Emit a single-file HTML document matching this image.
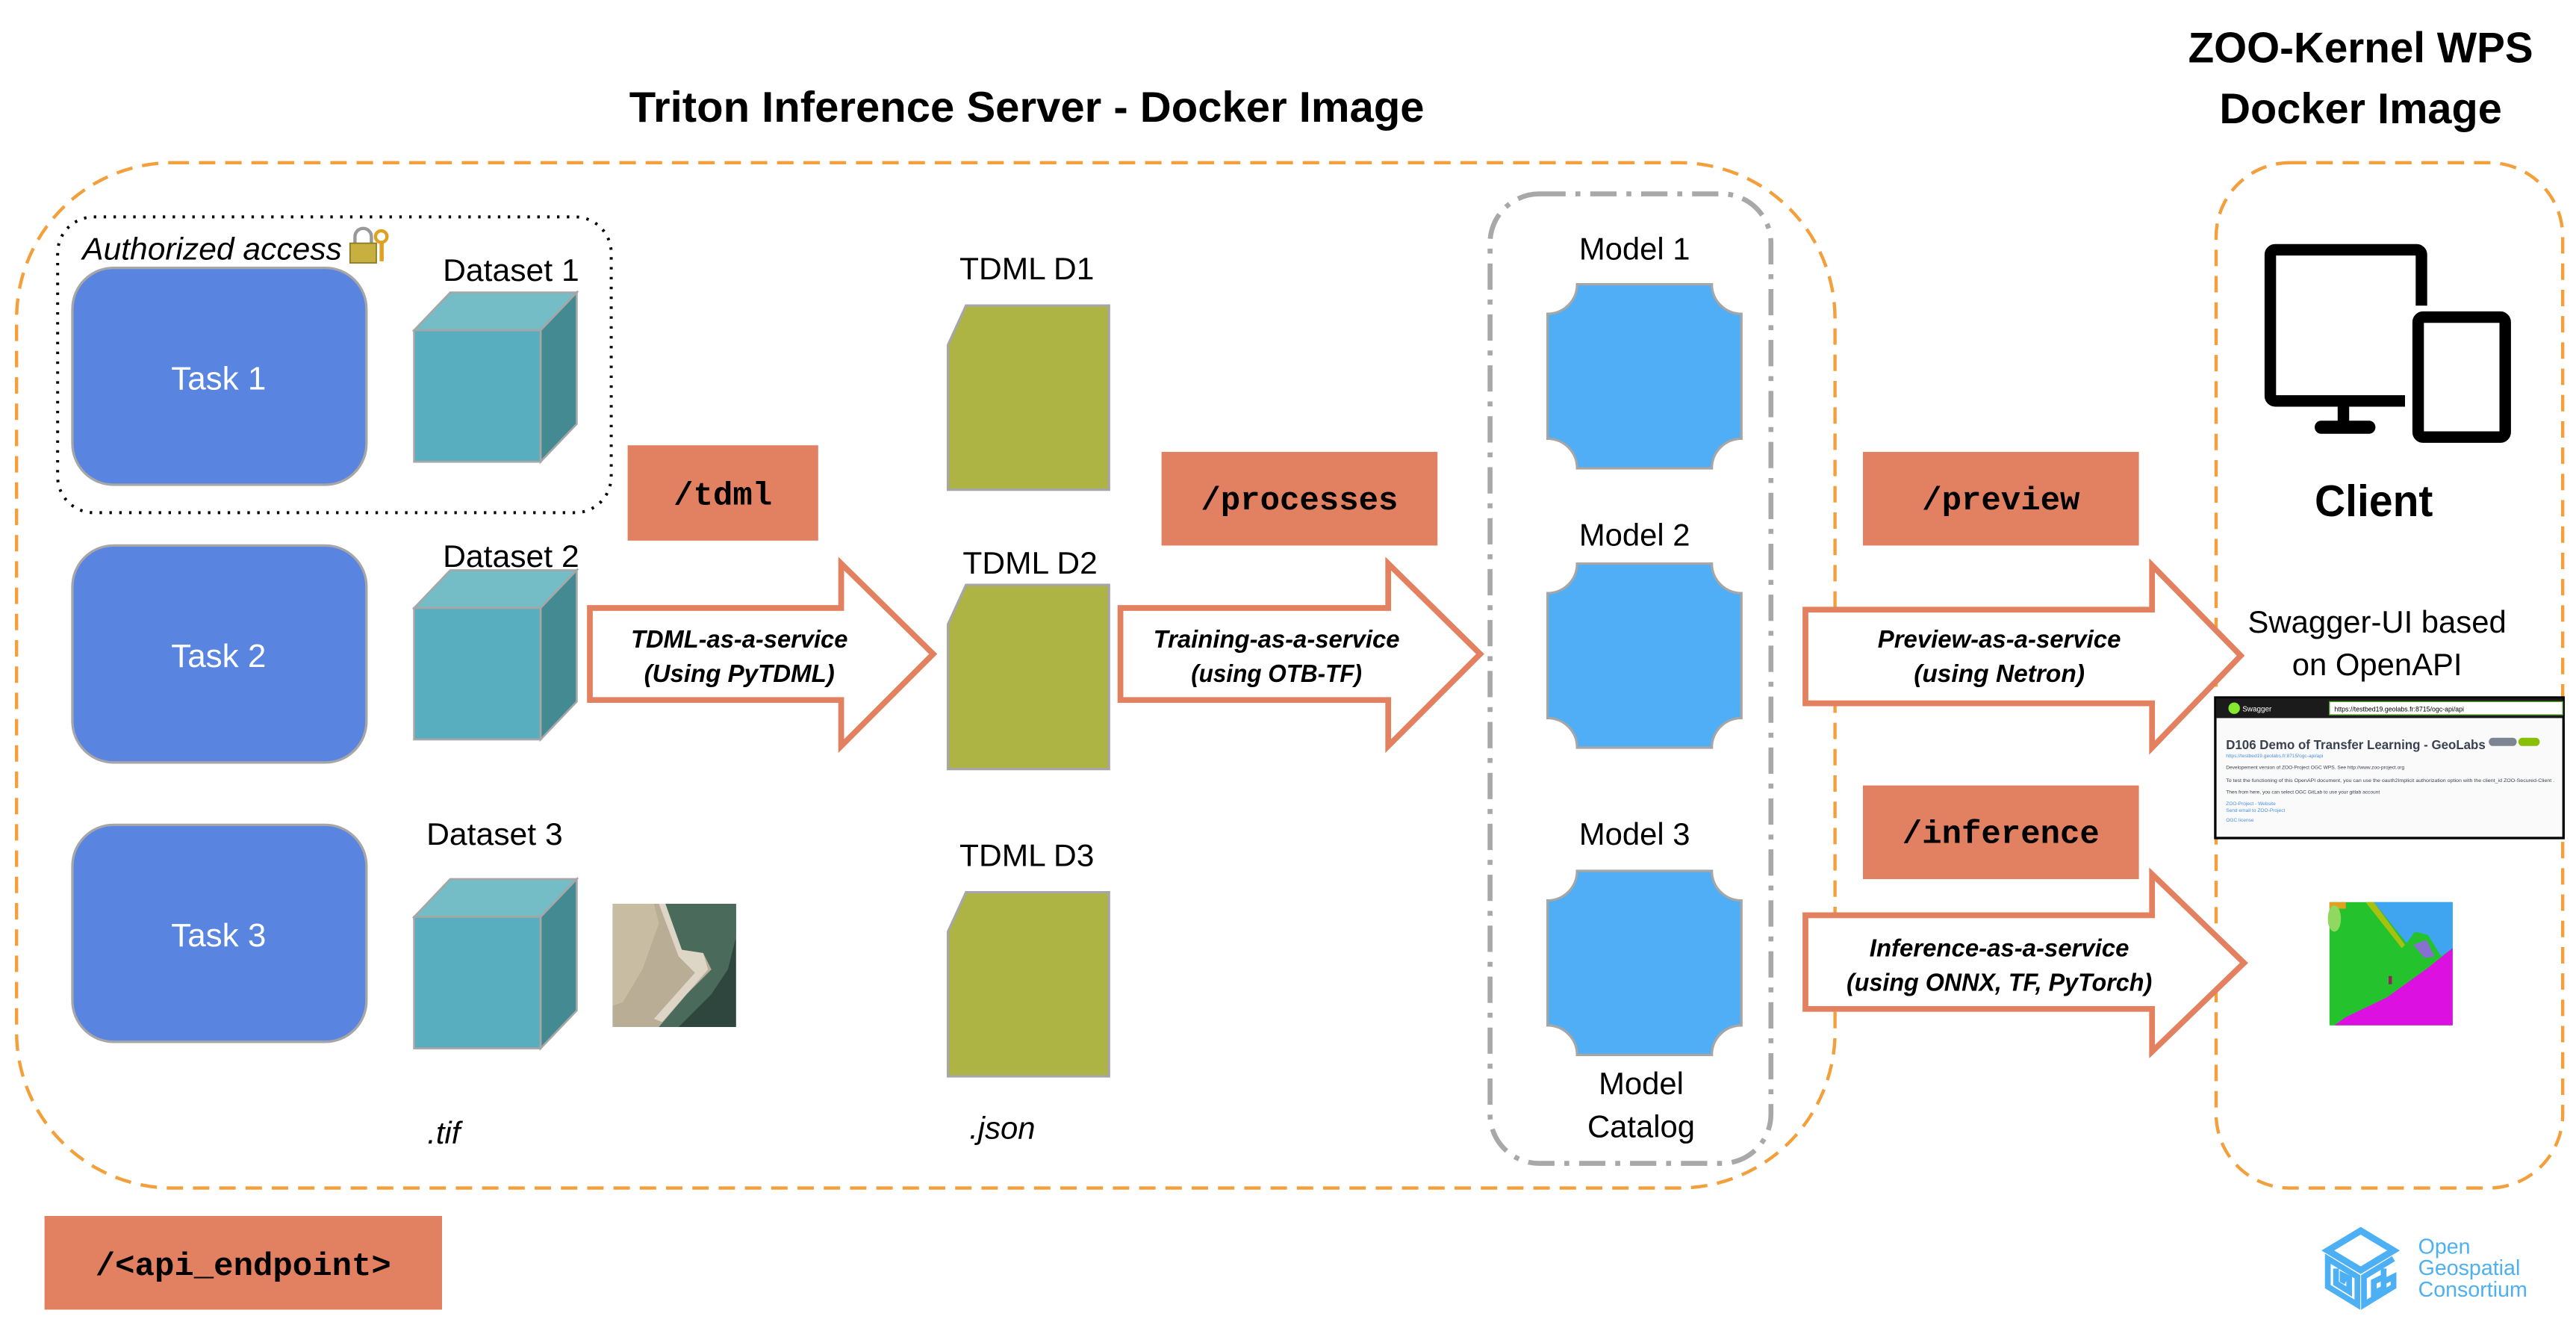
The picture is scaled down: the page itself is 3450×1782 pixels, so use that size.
<!DOCTYPE html>
<html><head><meta charset="utf-8"><style>
html,body{margin:0;padding:0;background:#fff;}
svg{display:block}
text{font-family:"Liberation Sans",sans-serif;}
text.mono{font-family:"Liberation Mono",monospace;font-weight:bold;}
</style></head><body>
<svg width="3450" height="1782" viewBox="0 0 1568 810" xmlns="http://www.w3.org/2000/svg">
<rect width="1568" height="810" fill="#fff"/>
<!-- titles -->
<text x="625" y="74" font-size="26" font-weight="bold" text-anchor="middle" textLength="484" lengthAdjust="spacingAndGlyphs">Triton Inference Server - Docker Image</text>
<text x="1437" y="38" font-size="26" font-weight="bold" text-anchor="middle" textLength="210" lengthAdjust="spacingAndGlyphs">ZOO-Kernel WPS</text>
<text x="1437" y="75" font-size="26" font-weight="bold" text-anchor="middle" textLength="172" lengthAdjust="spacingAndGlyphs">Docker Image</text>

<!-- containers -->
<rect x="10" y="99" width="1107" height="624" rx="95" fill="none" stroke="#F3A03C" stroke-width="2" stroke-dasharray="10,6"/>
<rect x="1349" y="99" width="211" height="624" rx="45" fill="none" stroke="#F3A03C" stroke-width="2" stroke-dasharray="10,6"/>
<rect x="35" y="132" width="337" height="180" rx="22" fill="none" stroke="#000" stroke-width="1.8" stroke-dasharray="1.5,4.5"/>
<rect x="907" y="118" width="171" height="590" rx="30" fill="none" stroke="#A8A8A8" stroke-width="3" stroke-dasharray="16,6,3,6"/>

<text x="50" y="158" font-size="19" font-style="italic" textLength="158" lengthAdjust="spacingAndGlyphs">Authorized access</text>
<!-- lock -->
<g transform="translate(213,139)">
<path d="M3 9 V5 a5 5 0 0 1 10 0 V9" fill="none" stroke="#999" stroke-width="2"/>
<rect x="0" y="9" width="16" height="12" fill="#C8B040" stroke="#8a7a20" stroke-width="0.8"/>
<circle cx="19" cy="5" r="3.5" fill="none" stroke="#E0A020" stroke-width="2"/>
<rect x="18" y="8" width="2.5" height="12" fill="#E0A020"/>
</g>

<!-- tasks -->
<g fill="#5985E1" stroke="#A6A6A6" stroke-width="1.5">
<rect x="44" y="163" width="179" height="132" rx="25"/>
<rect x="44" y="332" width="179" height="132" rx="25"/>
<rect x="44" y="502" width="179" height="132" rx="25"/>
</g>
<g fill="#fff" font-size="20" text-anchor="middle">
<text x="133" y="237">Task 1</text>
<text x="133" y="406">Task 2</text>
<text x="133" y="576">Task 3</text>
</g>

<!-- cubes -->
<defs>
<g id="cube">
<polygon points="0,23 22,0 99,0 77,23" fill="#74BCC6" stroke="#A6A6A6" stroke-width="1.2"/>
<polygon points="77,23 99,0 99,80 77,103" fill="#448A93" stroke="#A6A6A6" stroke-width="1.2"/>
<rect x="0" y="23" width="77" height="80" fill="#58AEBF" stroke="#A6A6A6" stroke-width="1.2"/>
</g>
<g id="doc">
<polygon points="0,24 11,0 98,0 98,112 0,112" fill="#ADB443" stroke="#A6A6A6" stroke-width="1.5"/>
</g>
<g id="model">
<path d="M18,0 H100 A18,18 0 0 0 118,18 V94 A18,18 0 0 0 100,112 H18 A18,18 0 0 0 0,94 V18 A18,18 0 0 0 18,0 Z" fill="#4FAEF5" stroke="#A6A6A6" stroke-width="1.5"/>
</g>
</defs>
<use href="#cube" x="252" y="178"/>
<use href="#cube" x="252" y="347"/>
<use href="#cube" x="252" y="535"/>
<g font-size="19" text-anchor="middle">
<text x="311" y="171" textLength="83" lengthAdjust="spacingAndGlyphs">Dataset 1</text>
<text x="311" y="345" textLength="83" lengthAdjust="spacingAndGlyphs">Dataset 2</text>
<text x="301" y="514" textLength="83" lengthAdjust="spacingAndGlyphs">Dataset 3</text>
<text x="625" y="170" textLength="82" lengthAdjust="spacingAndGlyphs">TDML D1</text>
<text x="627" y="349" textLength="82" lengthAdjust="spacingAndGlyphs">TDML D2</text>
<text x="625" y="527" textLength="82" lengthAdjust="spacingAndGlyphs">TDML D3</text>
<text x="995" y="158">Model 1</text>
<text x="995" y="332">Model 2</text>
<text x="995" y="514">Model 3</text>
<text x="999" y="666">Model</text>
<text x="999" y="692">Catalog</text>
<text x="1447" y="385">Swagger-UI based</text>
<text x="1447" y="411">on OpenAPI</text>
</g>
<g font-size="19" font-style="italic">
<text x="260" y="696">.tif</text>
<text x="590" y="693">.json</text>
</g>

<!-- satellite -->
<g transform="translate(373,550)">
<rect width="75" height="75" fill="#2f463e"/>
<polygon points="0,0 30,0 50,0 75,0 75,20 70,40 60,55 40,75 0,75" fill="#4a6a5c"/>
<polygon points="0,0 30,0 35,10 42,28 55,30 60,40 45,55 28,75 0,75" fill="#b9ad95"/>
<polygon points="0,0 25,0 28,12 18,40 6,60 0,62" fill="#c8bca3"/>
<polygon points="28,0 32,0 42,28 55,30 58,40 30,72 25,70 50,42 40,32" fill="#ddd5c5"/>
</g>

<!-- docs -->
<use href="#doc" x="577" y="186"/>
<use href="#doc" x="577" y="356"/>
<use href="#doc" x="577" y="543"/>

<!-- models -->
<use href="#model" x="942" y="173"/>
<use href="#model" x="942" y="343"/>
<use href="#model" x="942" y="530"/>

<!-- endpoint boxes -->
<g fill="#E28062">
<rect x="382" y="271" width="116" height="58"/>
<rect x="707" y="275" width="168" height="57"/>
<rect x="1134" y="275" width="168" height="57"/>
<rect x="1134" y="478" width="168" height="57"/>
<rect x="27" y="740" width="242" height="57"/>
</g>
<g font-size="20" text-anchor="middle">
<text class="mono" x="440" y="307">/tdml</text>
<text class="mono" x="791" y="310">/processes</text>
<text class="mono" x="1218" y="310">/preview</text>
<text class="mono" x="1218" y="513">/inference</text>
<text class="mono" x="148" y="776">/&lt;api_endpoint&gt;</text>
</g>

<!-- arrows -->
<g fill="#fff" stroke="#E2805F" stroke-width="3.5" stroke-linejoin="miter">
<polygon points="359,370 512,370 512,343 568,398 512,454 512,426 359,426"/>
<polygon points="682,370 845,370 845,343 901,398 845,454 845,426 682,426"/>
<polygon points="1099,371 1310,371 1310,344 1364,399 1310,455 1310,428 1099,428"/>
<polygon points="1099,557 1310,557 1310,532 1366,586 1310,640 1310,614 1099,614"/>
</g>
<g font-size="15" font-weight="bold" font-style="italic" text-anchor="middle">
<text x="450" y="394" textLength="132" lengthAdjust="spacingAndGlyphs">TDML-as-a-service</text>
<text x="450" y="415" textLength="116" lengthAdjust="spacingAndGlyphs">(Using PyTDML)</text>
<text x="777" y="394" textLength="150" lengthAdjust="spacingAndGlyphs">Training-as-a-service</text>
<text x="777" y="415" textLength="104" lengthAdjust="spacingAndGlyphs">(using OTB-TF)</text>
<text x="1217" y="394" textLength="148" lengthAdjust="spacingAndGlyphs">Preview-as-a-service</text>
<text x="1217" y="415" textLength="104" lengthAdjust="spacingAndGlyphs">(using Netron)</text>
<text x="1217" y="582" textLength="158" lengthAdjust="spacingAndGlyphs">Inference-as-a-service</text>
<text x="1217" y="603" textLength="186" lengthAdjust="spacingAndGlyphs">(using ONNX, TF, PyTorch)</text>
</g>

<!-- client icon -->
<rect x="1382" y="152" width="92" height="92" rx="3" fill="none" stroke="#000" stroke-width="7"/>
<rect x="1423" y="246" width="7" height="12" fill="#000"/>
<rect x="1409" y="256" width="37" height="8" rx="4" fill="#000"/>
<rect x="1464" y="186" width="70" height="90" fill="#fff"/>
<rect x="1472" y="193" width="53" height="73" rx="3" fill="#fff" stroke="#000" stroke-width="7"/>
<text x="1445" y="314" font-size="27" font-weight="bold" text-anchor="middle" textLength="72" lengthAdjust="spacingAndGlyphs">Client</text>

<!-- swagger screenshot -->
<g>
<rect x="1348.5" y="424.5" width="212" height="85.5" fill="#fafafa" stroke="#000" stroke-width="1.5"/>
<rect x="1349" y="425" width="211" height="12" fill="#1b1b1b"/>
<circle cx="1360" cy="431" r="3.5" fill="#85EA2D"/>
<text x="1365" y="433" font-size="4.5" fill="#fff">Swagger</text>
<rect x="1418" y="427" width="142" height="8" fill="#fff" stroke="#55a630" stroke-width="0.6"/>
<text x="1421" y="433" font-size="4" fill="#000">https://testbed19.geolabs.fr:8715/ogc-api/api</text>
<text x="1355" y="456" font-size="8" font-weight="bold" fill="#3b4151" textLength="158" lengthAdjust="spacingAndGlyphs">D106 Demo of Transfer Learning - GeoLabs</text>
<rect x="1515" y="449" width="17" height="5" rx="2.5" fill="#7d8492"/>
<rect x="1533" y="449" width="13" height="5" rx="2.5" fill="#89bf04"/>
<text x="1355" y="461" font-size="3" fill="#4990e2">https://testbed19.geolabs.fr:8715/ogc-api/api</text>
<text x="1355" y="468" font-size="3" fill="#3b4151">Developement version of ZOO-Project OGC WPS. See http://www.zoo-project.org</text>
<text x="1355" y="476" font-size="3" fill="#3b4151" textLength="200" lengthAdjust="spacingAndGlyphs">To test the functioning of this OpenAPI document, you can use the oauth2Implicit authorization option with the client_id ZOO-Secured-Client .</text>
<text x="1355" y="483" font-size="3" fill="#3b4151">Then from here, you can select OGC GitLab to use your gitlab account</text>
<text x="1355" y="490" font-size="3" fill="#4990e2">ZOO-Project - Website</text>
<text x="1355" y="494" font-size="3" fill="#4990e2">Send email to ZOO-Project</text>
<text x="1355" y="500" font-size="3" fill="#4990e2">OGC license</text>
</g>

<!-- segmentation -->
<g transform="translate(1418,549)">
<rect width="75" height="75" fill="#24C22C"/>
<polygon points="27,0 75,0 75,28 68,33 60,20 52,18 47,25" fill="#3FA5F0"/>
<polygon points="22,0 27,0 46,26 44,28" fill="#A8C010"/>
<polygon points="51,26 59,23 64,33 58,34" fill="#8870D0"/>
<polygon points="75,28 75,75 3,75 10,70 35,58 60,40" fill="#DC10E0"/>
<rect x="0" y="0" width="10" height="4" fill="#E0A020"/>
<ellipse cx="3" cy="10" rx="4" ry="8" fill="#90D860"/>
<rect x="36" y="45" width="2" height="5" fill="#9a2060"/>
</g>

<!-- OGC logo -->
<g>
<polygon points="1437,749 1457,761 1437,773 1417,761" fill="none" stroke="#4DB0F5" stroke-width="4"/>
<path d="M1417,766 L1435,777 V794 L1417,783 Z M1422,772 V781 L1430,786 V778 L1426,776 V779 L1428,780" fill="none" stroke="#4DB0F5" stroke-width="3.5"/>
<path d="M1457,766 L1439,777 V794 L1457,783 V777 L1451,780 V784 L1445,787 V780 L1451,777 V772" fill="none" stroke="#4DB0F5" stroke-width="3.5"/>
</g>
<g font-size="13" fill="#4DB0F5">
<text x="1472" y="763">Open</text>
<text x="1472" y="776">Geospatial</text>
<text x="1472" y="789">Consortium</text>
</g>
</svg>
</body></html>
